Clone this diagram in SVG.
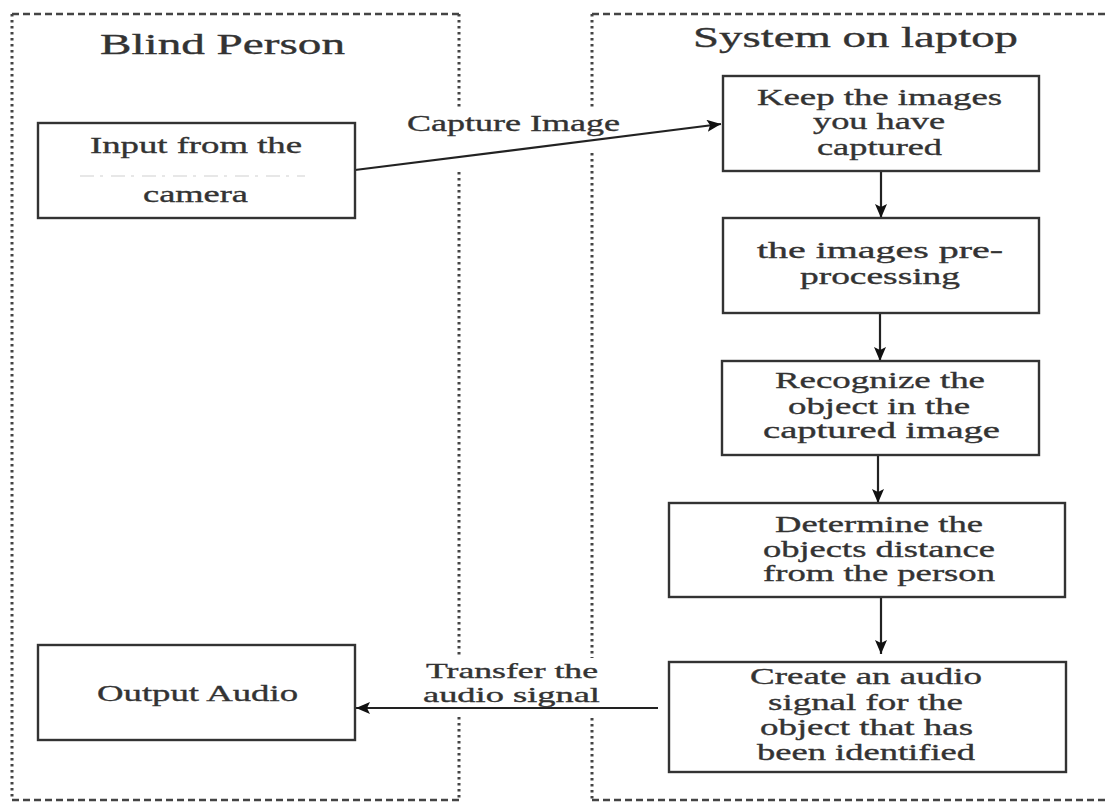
<svg xmlns="http://www.w3.org/2000/svg" width="1109" height="802" viewBox="0 0 1109 802">
<style>
.dot{stroke:#444;stroke-width:3;stroke-dasharray:2.6 3.4;fill:none}
.dash{stroke:#444;stroke-width:2.6;stroke-dasharray:7 4;fill:none}
.box{fill:#fff;stroke:#333;stroke-width:2.4}
.t{font-family:"Liberation Serif","DejaVu Serif","Times New Roman",serif;font-size:24px;fill:#333;stroke:#333;stroke-width:0.35}
.s{font-size:22px}
.title{font-family:"Liberation Serif","DejaVu Serif","Times New Roman",serif;font-size:30px;fill:#333;stroke:#333;stroke-width:0.35}
.edge{stroke:#222;stroke-width:2.2;fill:none}
</style>
<defs>
<marker id="ah" viewBox="0 0 14 12" refX="14" refY="6" markerWidth="14" markerHeight="12" markerUnits="userSpaceOnUse" orient="auto">
<path d="M0,0 L14,6 L0,12 L3,6 z" fill="#111"/>
</marker>
</defs>
<rect width="1109" height="802" fill="#fff"/>
<g id="lane-blind">
<line class="dash" x1="12" y1="14" x2="459" y2="14"/>
<line class="dot" x1="12" y1="14" x2="12" y2="800"/>
<line class="dot" x1="459" y1="14" x2="459" y2="107"/>
<line class="dot" x1="459" y1="172" x2="459" y2="655"/>
<line class="dot" x1="459" y1="717" x2="459" y2="800"/>
<line class="dash" x1="12" y1="800" x2="459" y2="800"/>
<text class="title" x="100" y="54" textLength="245" lengthAdjust="spacingAndGlyphs">Blind Person</text>
</g>
<g id="lane-system">
<line class="dash" x1="592" y1="14" x2="1109" y2="14"/>
<line class="dot" x1="592" y1="14" x2="592" y2="107"/>
<line class="dot" x1="592" y1="153" x2="592" y2="658"/>
<line class="dot" x1="592" y1="718" x2="592" y2="800"/>
<line class="dash" x1="592" y1="800" x2="1109" y2="800"/>
<text class="title" x="693" y="47" textLength="325" lengthAdjust="spacingAndGlyphs">System on laptop</text>
</g>
<g id="connectors">
<line class="edge" x1="355" y1="170" x2="721" y2="124" marker-end="url(#ah)"/>
<text class="t" x="407" y="131" textLength="213" lengthAdjust="spacingAndGlyphs">Capture Image</text>
<line class="edge" x1="881" y1="171" x2="881" y2="218" marker-end="url(#ah)"/>
<line class="edge" x1="880" y1="313" x2="880" y2="361" marker-end="url(#ah)"/>
<line class="edge" x1="878" y1="455" x2="878" y2="503" marker-end="url(#ah)"/>
<line class="edge" x1="881" y1="597" x2="881" y2="654" marker-end="url(#ah)"/>
<line class="edge" x1="658" y1="708" x2="356" y2="708" marker-end="url(#ah)"/>
<text class="t s" x="426" y="678" textLength="172" lengthAdjust="spacingAndGlyphs">Transfer the</text>
<text class="t s" x="423" y="702" textLength="177" lengthAdjust="spacingAndGlyphs">audio signal</text>
</g>
<g id="input">
<rect class="box" x="38" y="123" width="317" height="95"/>
<text class="t" x="90" y="153" textLength="212" lengthAdjust="spacingAndGlyphs">Input from the</text>
<line x1="80" y1="176" x2="305" y2="176" stroke="#ccc" stroke-width="1.5" stroke-dasharray="14 6 3 8" opacity="0.6"/>
<text class="t" x="143" y="202" textLength="105" lengthAdjust="spacingAndGlyphs">camera</text>
</g>
<g id="output">
<rect class="box" x="38" y="645" width="317" height="95"/>
<text class="t" x="97" y="701" textLength="201" lengthAdjust="spacingAndGlyphs">Output Audio</text>
</g>
<g id="keep">
<rect class="box" x="723" y="76" width="316" height="95"/>
<text class="t" x="757" y="105" textLength="245" lengthAdjust="spacingAndGlyphs">Keep the images</text>
<text class="t" x="813" y="129" textLength="132" lengthAdjust="spacingAndGlyphs">you have</text>
<text class="t" x="817" y="155" textLength="125" lengthAdjust="spacingAndGlyphs">captured</text>
</g>
<g id="preprocess">
<rect class="box" x="723" y="218" width="316" height="95"/>
<text class="t" x="757" y="258" textLength="246" lengthAdjust="spacingAndGlyphs">the images pre-</text>
<text class="t" x="800" y="284" textLength="160" lengthAdjust="spacingAndGlyphs">processing</text>
</g>
<g id="recognize">
<rect class="box" x="722" y="361" width="317" height="94"/>
<text class="t" x="775" y="388" textLength="210" lengthAdjust="spacingAndGlyphs">Recognize the</text>
<text class="t" x="788" y="414" textLength="182" lengthAdjust="spacingAndGlyphs">object in the</text>
<text class="t" x="763" y="438" textLength="237" lengthAdjust="spacingAndGlyphs">captured image</text>
</g>
<g id="determine">
<rect class="box" x="669" y="503" width="396" height="94"/>
<text class="t" x="775" y="532" textLength="208" lengthAdjust="spacingAndGlyphs">Determine the</text>
<text class="t" x="763" y="557" textLength="232" lengthAdjust="spacingAndGlyphs">objects distance</text>
<text class="t" x="763" y="581" textLength="232" lengthAdjust="spacingAndGlyphs">from the person</text>
</g>
<g id="create">
<rect class="box" x="669" y="662" width="397" height="110"/>
<text class="t" x="750" y="684" textLength="232" lengthAdjust="spacingAndGlyphs">Create an audio</text>
<text class="t" x="768" y="710" textLength="195" lengthAdjust="spacingAndGlyphs">signal for the</text>
<text class="t" x="760" y="735" textLength="213" lengthAdjust="spacingAndGlyphs">object that has</text>
<text class="t" x="757" y="760" textLength="218" lengthAdjust="spacingAndGlyphs">been identified</text>
</g>
</svg>
